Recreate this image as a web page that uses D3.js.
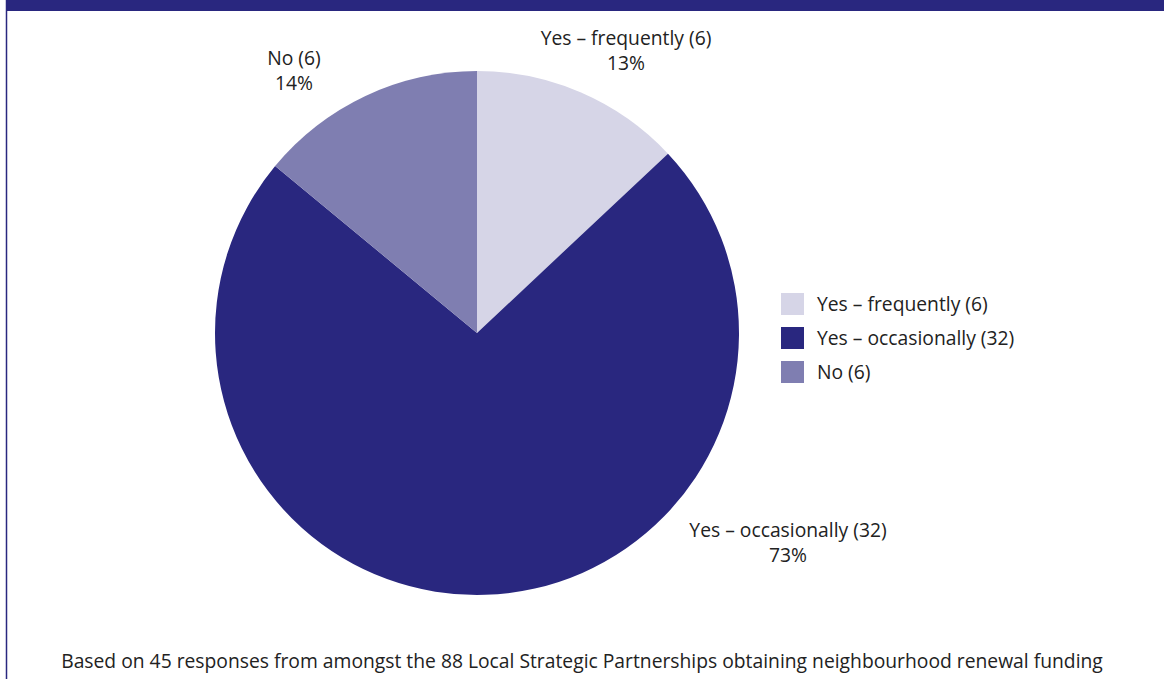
<!DOCTYPE html>
<html><head><meta charset="utf-8">
<script src="https://cdn.jsdelivr.net/npm/d3@7"></script>
<style>body{margin:0;background:#fff;}svg{display:block;font-family:"Open Sans","Noto Sans",sans-serif;}</style>
</head><body>
<svg id="c" width="1164" height="679"></svg>
<script>
const categories = ["Yes – frequently", "Yes – occasionally", "No"];
const counts = [6, 32, 6];
const percents = [13, 73, 14];
const colors = ["#d6d5e7", "#29277f", "#7f7eb1"];
const footnote = "Based on 45 responses from amongst the 88 Local Strategic Partnerships obtaining neighbourhood renewal funding";

const svg = d3.select("#c");
const W = 1164, H = 679;
const FS = 19.3;
// header band & frame
svg.append("rect").attr("x", 6).attr("y", 0).attr("width", W - 6).attr("height", 11).attr("fill", "#29277f");
svg.append("line").attr("x1", 6.5).attr("x2", 6.5).attr("y1", 0).attr("y2", H).attr("stroke", "#29277f").attr("stroke-width", 1.5);

const cx = 477, cy = 333, r = 262;
const data = categories.map((c, i) => ({cat: c, count: counts[i], pct: percents[i], color: colors[i]}));
const pie = d3.pie().value(d => d.pct).sort(null);
const arc = d3.arc().innerRadius(0).outerRadius(r);
const arcs = pie(data);
const g = svg.append("g").attr("transform", `translate(${cx},${cy})`);
g.selectAll("path").data(arcs).join("path").attr("d", arc).attr("fill", d => d.data.color);

// labels
const labelPos = [[626, 38], [788, 530], [294, 58]];
arcs.forEach((a, i) => {
  const [x, y] = labelPos[i];
  const t = svg.append("text").attr("text-anchor", "middle").attr("fill", "#222").attr("font-size", FS);
  t.append("tspan").attr("x", x).attr("y", y + 7).text(`${a.data.cat} (${a.data.count})`);
  t.append("tspan").attr("x", x).attr("y", y + 32).text(`${a.data.pct}%`);
});

// legend
const lg = svg.append("g").attr("transform", "translate(781,293)");
data.forEach((d, i) => {
  lg.append("rect").attr("x", 0).attr("y", i * 34).attr("width", 23).attr("height", 22).attr("fill", d.color);
  lg.append("text").attr("x", 36).attr("y", i * 34 + 18).attr("font-size", FS).attr("fill", "#222").text(`${d.cat} (${d.count})`);
});

svg.append("text").attr("x", 582).attr("y", 668).attr("text-anchor", "middle").attr("font-size", FS).attr("fill", "#222").text(footnote);
</script>
</body></html>
